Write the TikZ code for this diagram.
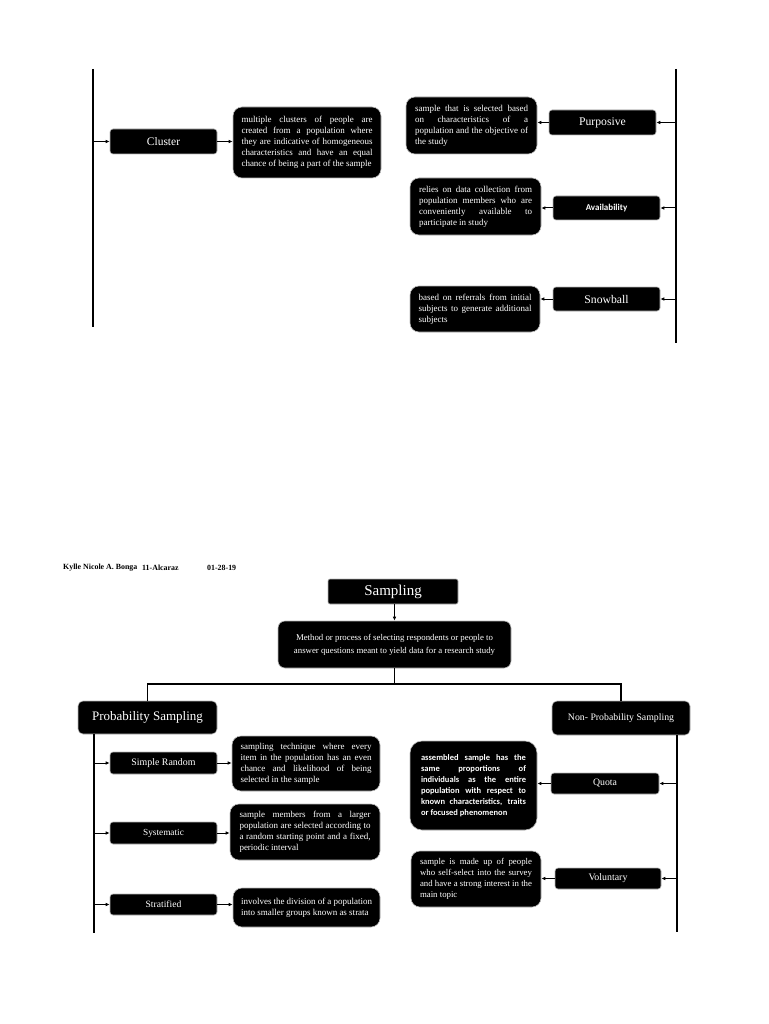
\documentclass[tikz,border=0pt]{standalone}
\usepackage{fontspec}
\setmainfont{Liberation Serif}
\newfontfamily\carlito{Carlito}
\usetikzlibrary{arrows.meta}
\newcommand{\nobrk}{\hyphenpenalty=10000\relax\exhyphenpenalty=10000\relax\tolerance=10000\relax\emergencystretch=20pt\relax}
\newcommand{\dfont}{\fontsize{9}{11}\selectfont\nobrk}
\newcommand{\nl}{\linebreak}
\tikzset{
  lab/.style={fill=black, draw=gray!55, line width=0.6pt, rounded corners=3pt, text=white, inner sep=0pt, minimum width=107pt},
  desc/.style={fill=black, draw=gray!55, line width=0.6pt, rounded corners=9pt, text=white, inner sep=0pt, align=justify, font=\dfont},
  arr/.style={line width=1pt, -{Latex[length=4pt,width=3.6pt]}},
  ln/.style={line width=1.1pt},
  hdr/.style={anchor=west, inner sep=0pt, font=\bfseries\fontsize{7.9}{10}\selectfont}
}
\begin{document}
\begin{tikzpicture}[x=1pt,y=-1pt]
\useasboundingbox[fill=white] (0,0) rectangle (768,1024);

% ---------- top part ----------
\coordinate (tlA) at (93,69);
\coordinate (tlB) at (93,327);
\coordinate (trA) at (676,69);
\coordinate (trB) at (676,343);
\draw[ln] (tlA) -- (tlB);
\draw[ln] (trA) -- (trB);

\node[lab, minimum height=25pt, font=\fontsize{11.5}{13}\selectfont] (cluster) at (163.5,141.5) {Cluster};
\node[desc, minimum width=148pt, minimum height=71pt, text width=131pt] (clusterd) at (307,142.5)
 {multiple clusters of people are\nl created from a population where\nl they are indicative of homogeneous\nl characteristics and have an equal\nl chance of being a part of the sample};
\coordinate (cc) at (93,141.5);
\draw[arr] (cc) -- (cluster);
\draw[arr] (cluster) -- (cluster -| clusterd.west);

\node[lab, minimum height=25pt, font=\fontsize{11.7}{13}\selectfont] (purp) at (602.5,122.5) {Purposive};
\node[desc, minimum width=131pt, minimum height=57pt, text width=113pt] (purpd) at (471.5,125.5)
 {sample that is selected based\nl on characteristics of a\nl population and the objective of\nl the study};
\coordinate (cp) at (676,122.5);
\draw[arr] (cp) -- (purp);
\draw[arr] (purp) -- (purp -| purpd.east);

\node[lab, minimum height=24pt, font=\carlito\bfseries\fontsize{9}{10}\selectfont] (avail) at (606.5,208) {Availability};
\node[desc, minimum width=131pt, minimum height=57pt, text width=113pt] (availd) at (475.5,206.5)
 {relies on data collection from\nl population members who are\nl conveniently available to\nl participate in study};
\coordinate (ca) at (676,208);
\draw[arr] (ca) -- (avail);
\draw[arr] (avail) -- (avail -| availd.east);

\node[lab, minimum height=24pt, font=\fontsize{11.7}{13}\selectfont] (snow) at (606.5,299) {Snowball};
\node[desc, minimum width=130pt, minimum height=46pt, text width=113pt] (snowd) at (475,309)
 {based on referrals from initial\nl subjects to generate additional\nl subjects};
\coordinate (cs) at (676,299);
\draw[arr] (cs) -- (snow);
\draw[arr] (snow) -- (snow -| snowd.east);

% ---------- bottom part ----------
\node[hdr] (author) at (63,567.5) {Kylle Nicole A. Bonga};
\node[hdr] (sect) at (142,567.5) {11-Alcaraz};
\node[hdr] (date) at (207,567.5) {01-28-19};

\node[lab, minimum width=130pt, minimum height=25pt, rounded corners=2pt, font=\fontsize{15}{17}\selectfont] (samp) at (393,591.5) {Sampling};
\node[desc, minimum width=233pt, minimum height=47pt, align=center, rounded corners=7pt, font=\fontsize{8.8}{12.7}\selectfont] (sampd) at (394.5,644.5)
 {Method or process of selecting respondents or people to\\answer questions meant to yield data for a research study};
\draw[arr] (samp.south -| sampd.north) -- (sampd.north);

\node[lab, minimum width=139pt, minimum height=33pt, rounded corners=5pt, font=\fontsize{13}{15}\selectfont] (prob) at (147.5,717.5) {Probability Sampling};
\node[lab, minimum width=138pt, minimum height=34pt, rounded corners=5pt, font=\fontsize{9.8}{11}\selectfont] (nonp) at (621,718) {Non- Probability Sampling};
\coordinate (bj) at (394.5,684);
\draw[ln] (sampd.south) -- (bj);
\draw[ln] (prob.north) |- (bj) -| (nonp.north);

\coordinate (blA) at (94,734);
\coordinate (blB) at (94,933);
\coordinate (brA) at (677,735);
\coordinate (brB) at (677,932);
\draw[ln] (blA) -- (blB);
\draw[ln] (brA) -- (brB);

\node[lab, minimum height=22pt, font=\fontsize{9.9}{11}\selectfont] (srand) at (163.5,763) {Simple Random};
\node[desc, minimum width=148pt, minimum height=55pt, text width=131pt] (srandd) at (306,763.5)
 {sampling technique where every\nl item in the population has an even\nl chance and likelihood of being\nl selected in the sample};
\coordinate (c1) at (94,763);
\draw[arr] (c1) -- (srand);
\draw[arr] (srand) -- (srand -| srandd.west);

\node[lab, minimum height=22pt, font=\fontsize{9.3}{11}\selectfont] (syst) at (163.5,833) {Systematic};
\node[desc, minimum width=150pt, minimum height=56pt, text width=131pt] (systd) at (305,832)
 {sample members from a larger\nl population are selected according to\nl a random starting point and a fixed,\nl periodic interval};
\coordinate (c2) at (94,833);
\draw[arr] (c2) -- (syst);
\draw[arr] (syst) -- (syst -| systd.west);

\node[lab, minimum height=21pt, font=\fontsize{9.6}{11}\selectfont] (strat) at (163.5,904.5) {Stratified};
\node[desc, minimum width=147pt, minimum height=39pt, text width=131pt] (stratd) at (306.5,907.5)
 {involves the division of a population\nl into smaller groups known as strata};
\coordinate (c3) at (94,904.5);
\draw[arr] (c3) -- (strat);
\draw[arr] (strat) -- (strat -| stratd.west);

\node[lab, minimum width=108pt, minimum height=21pt, font=\fontsize{9.8}{11}\selectfont] (quota) at (605,783.5) {Quota};
\node[desc, minimum width=127pt, minimum height=89pt, text width=105pt, rounded corners=12pt, font=\carlito\bfseries\fontsize{8.5}{11}\selectfont\nobrk] (quotad) at (473.5,785.5)
 {assembled sample has the\nl same proportions of\nl individuals as the entire\nl population with respect to\nl known characteristics, traits\nl or focused phenomenon};
\coordinate (c4) at (677,783.5);
\draw[arr] (c4) -- (quota);
\draw[arr] (quota) -- (quota -| quotad.east);

\node[lab, minimum width=106pt, minimum height=21pt, font=\fontsize{9.9}{11}\selectfont] (volu) at (608,878.5) {Voluntary};
\node[desc, minimum width=130pt, minimum height=56pt, text width=112pt, font=\fontsize{8.8}{11}\selectfont\nobrk] (volud) at (476,879)
 {sample is made up of people\nl who self-select into the survey\nl and have a strong interest in the\nl main topic};
\coordinate (c5) at (677,878.5);
\draw[arr] (c5) -- (volu);
\draw[arr] (volu) -- (volu -| volud.east);
\end{tikzpicture}
\end{document}
